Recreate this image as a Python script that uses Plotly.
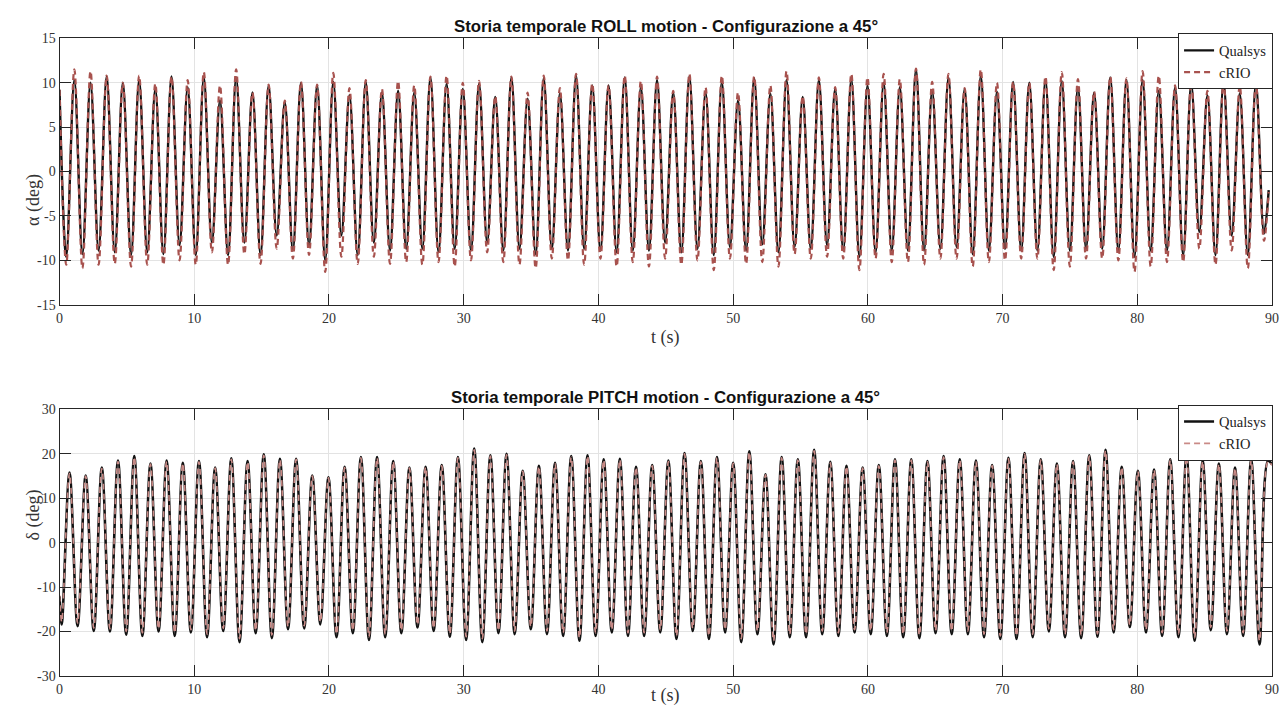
import plotly.graph_objects as go

# ---------------- ROLL (alpha) ----------------
roll_start = (0.0, 9.2, 9.2)          # t, Qualsys, cRIO
roll_end = (89.75, -2.1, -2.3)

roll_trough_t = [0.50, 1.70, 2.90, 4.10, 5.31, 6.51, 7.71, 8.91, 10.11, 11.31,
                 12.51, 13.72, 14.92, 16.12, 17.32, 18.52, 19.72, 20.92, 22.13, 23.33,
                 24.53, 25.73, 26.93, 28.13, 29.33, 30.54, 31.74, 32.94, 34.14, 35.34,
                 36.54, 37.74, 38.94, 40.15, 41.35, 42.55, 43.75, 44.95, 46.15, 47.35,
                 48.56, 49.76, 50.96, 52.16, 53.36, 54.56, 55.76, 56.97, 58.17, 59.37,
                 60.57, 61.77, 62.97, 64.17, 65.38, 66.58, 67.78, 68.98, 70.18, 71.38,
                 72.58, 73.79, 74.99, 76.19, 77.39, 78.59, 79.79, 80.99, 82.20, 83.40,
                 84.60, 85.80, 87.00, 88.20, 89.40]
roll_peak_t = [1.10, 2.30, 3.50, 4.70, 5.91, 7.11, 8.31, 9.51, 10.71, 11.91,
               13.11, 14.32, 15.52, 16.72, 17.92, 19.12, 20.32, 21.52, 22.73, 23.93,
               25.13, 26.33, 27.53, 28.73, 29.93, 31.14, 32.34, 33.54, 34.74, 35.94,
               37.14, 38.34, 39.54, 40.75, 41.95, 43.15, 44.35, 45.55, 46.75, 47.95,
               49.16, 50.36, 51.56, 52.76, 53.96, 55.16, 56.36, 57.57, 58.77, 59.97,
               61.17, 62.37, 63.57, 64.77, 65.98, 67.18, 68.38, 69.58, 70.78, 71.98,
               73.18, 74.39, 75.59, 76.79, 77.99, 79.19, 80.39, 81.59, 82.80, 84.00,
               85.20, 86.40, 87.60, 88.80]

roll_qualsys_troughs = [-9.6, -9.3, -8.9, -9.1, -9.4, -9.1, -9.3, -8.3, -9.4, -8.0,
                        -9.4, -8.0, -9.4, -7.2, -8.9, -8.3, -10.0, -7.2, -9.4, -8.0,
                        -8.9, -8.7, -8.7, -9.1, -8.7, -8.9, -8.0, -8.9, -8.7, -9.3,
                        -8.7, -8.9, -8.7, -8.9, -9.1, -8.9, -8.9, -8.0, -9.1, -8.7,
                        -9.4, -8.5, -8.9, -8.2, -9.1, -8.5, -8.7, -8.3, -8.9, -9.6,
                        -9.1, -8.9, -8.9, -8.9, -8.7, -8.5, -9.3, -8.9, -8.7, -8.9,
                        -8.9, -9.6, -8.9, -8.7, -8.7, -8.9, -9.6, -8.9, -8.9, -9.4,
                        -6.8, -9.4, -7.2, -9.4, -7.0]
roll_qualsys_peaks = [10.3, 10.0, 10.7, 10.0, 10.3, 9.3, 10.7, 9.5, 10.6, 8.0,
                      10.6, 8.9, 9.7, 7.8, 10.0, 9.7, 10.1, 8.6, 10.1, 8.9,
                      9.1, 8.9, 10.6, 9.9, 9.3, 9.9, 8.4, 10.6, 8.2, 10.5,
                      8.8, 10.8, 9.7, 9.7, 10.6, 9.5, 10.3, 8.9, 10.7, 8.9,
                      10.1, 8.0, 10.5, 8.8, 10.3, 8.4, 10.3, 9.3, 10.4, 9.7,
                      10.0, 9.5, 11.5, 9.1, 10.6, 9.3, 10.8, 9.0, 10.1, 10.0,
                      10.3, 10.2, 9.5, 8.9, 10.6, 10.3, 10.3, 9.1, 9.5, 9.9,
                      8.6, 10.1, 8.8, 9.9]

roll_crio_troughs = [-10.5, -10.9, -10.5, -10.4, -10.7, -10.5, -10.5, -10.0, -10.5, -9.1,
                     -10.5, -9.3, -10.4, -8.7, -9.8, -9.4, -11.3, -9.6, -10.4, -9.6,
                     -10.4, -10.2, -10.5, -10.2, -10.7, -10.0, -9.1, -10.2, -10.5, -10.9,
                     -9.8, -10.0, -10.5, -9.8, -10.7, -10.2, -10.7, -9.8, -10.5, -10.0,
                     -11.1, -9.8, -10.4, -10.2, -10.7, -9.3, -9.8, -9.6, -9.8, -11.1,
                     -9.8, -10.2, -10.2, -10.5, -9.8, -9.8, -10.7, -10.2, -10.0, -9.8,
                     -9.8, -11.1, -10.7, -9.8, -9.8, -10.0, -11.3, -10.7, -10.2, -10.2,
                     -8.7, -10.5, -8.9, -10.9, -7.8]
roll_crio_peaks = [11.5, 11.3, 10.8, 10.0, 10.8, 9.9, 10.7, 10.3, 11.2, 9.7,
                   11.5, 8.9, 9.8, 8.0, 10.1, 9.8, 11.1, 9.4, 10.3, 9.3,
                   10.2, 9.7, 10.7, 10.8, 10.0, 10.2, 8.5, 10.7, 8.9, 10.8,
                   9.4, 11.0, 9.9, 9.7, 10.8, 10.2, 10.7, 9.1, 11.0, 9.5,
                   10.8, 8.9, 10.7, 9.7, 11.3, 8.5, 10.6, 9.5, 11.0, 10.6,
                   11.0, 10.4, 11.6, 10.1, 11.0, 9.4, 11.5, 10.0, 10.1, 10.0,
                   10.7, 11.2, 10.4, 9.0, 10.7, 10.5, 11.3, 10.8, 9.7, 10.1,
                   9.1, 10.1, 9.7, 9.9]

# ---------------- PITCH (delta) ----------------
pitch_start = (0.0, -12.1, -11.8)
pitch_end = (90.0, 17.6, 17.4)

pitch_trough_t = [0.16, 1.34, 2.54, 3.74, 4.95, 6.15, 7.35, 8.55, 9.75, 10.95,
                  12.15, 13.36, 14.56, 15.76, 16.96, 18.16, 19.36, 20.56, 21.77, 22.97,
                  24.17, 25.37, 26.57, 27.77, 28.97, 30.18, 31.38, 32.58, 33.78, 34.98,
                  36.18, 37.38, 38.59, 39.79, 40.99, 42.19, 43.39, 44.59, 45.79, 47.00,
                  48.20, 49.40, 50.60, 51.80, 53.00, 54.20, 55.41, 56.61, 57.81, 59.01,
                  60.21, 61.41, 62.62, 63.82, 65.02, 66.22, 67.42, 68.62, 69.83, 71.03,
                  72.23, 73.43, 74.63, 75.83, 77.04, 78.24, 79.44, 80.64, 81.84, 83.05,
                  84.25, 85.45, 86.65, 87.85, 89.07]
pitch_peak_t = [0.74, 1.94, 3.14, 4.34, 5.55, 6.75, 7.95, 9.15, 10.35, 11.55,
                12.75, 13.96, 15.16, 16.36, 17.56, 18.76, 19.96, 21.16, 22.37, 23.57,
                24.77, 25.97, 27.17, 28.37, 29.57, 30.78, 31.98, 33.18, 34.38, 35.58,
                36.78, 37.98, 39.19, 40.39, 41.59, 42.79, 43.99, 45.19, 46.39, 47.60,
                48.80, 50.00, 51.20, 52.40, 53.60, 54.80, 56.01, 57.21, 58.41, 59.61,
                60.81, 62.01, 63.22, 64.42, 65.62, 66.82, 68.02, 69.22, 70.43, 71.63,
                72.83, 74.03, 75.23, 76.43, 77.64, 78.84, 80.04, 81.24, 82.44, 83.65,
                84.85, 86.05, 87.25, 88.45, 89.70]

pitch_qualsys_troughs = [-18.4, -18.8, -19.9, -20.0, -20.7, -21.0, -20.0, -21.0, -20.2, -21.3,
                         -19.9, -22.4, -20.4, -21.5, -19.5, -19.3, -18.4, -21.3, -20.4, -21.9,
                         -21.3, -20.4, -19.1, -19.9, -21.2, -21.9, -22.4, -20.4, -20.6, -19.5,
                         -20.6, -21.0, -22.1, -21.0, -20.2, -21.0, -21.0, -20.2, -21.7, -19.9,
                         -21.7, -20.2, -22.4, -20.6, -22.9, -21.3, -21.3, -20.6, -21.0, -20.2,
                         -20.6, -21.0, -21.3, -21.5, -20.4, -20.6, -20.6, -21.3, -21.7, -21.7,
                         -21.3, -20.0, -21.3, -21.5, -21.2, -20.2, -19.0, -20.2, -21.0, -21.3,
                         -22.1, -19.7, -20.6, -21.0, -22.9]
pitch_qualsys_peaks = [15.8, 15.1, 16.9, 18.5, 19.5, 17.8, 18.5, 18.0, 18.4, 16.9,
                       19.0, 18.4, 19.9, 18.9, 18.9, 15.1, 14.7, 17.1, 19.3, 19.3,
                       18.4, 16.9, 17.1, 17.5, 19.3, 21.2, 19.7, 20.0, 16.2, 17.3,
                       18.0, 19.5, 19.7, 18.8, 18.9, 17.1, 17.5, 18.5, 20.2, 18.4,
                       19.3, 18.0, 20.6, 15.4, 19.3, 18.8, 20.9, 18.2, 17.3, 16.9,
                       17.5, 18.8, 18.8, 18.4, 19.5, 18.8, 18.5, 17.5, 19.1, 20.2,
                       18.8, 17.8, 18.4, 19.7, 20.9, 17.1, 16.2, 16.5, 18.8, 19.7,
                       18.5, 17.8, 16.9, 18.8, 18.5]

pitch_crio_troughs = [-17.8, -18.1, -19.2, -19.4, -20.0, -20.3, -19.4, -20.3, -19.6, -20.6,
                      -19.3, -21.6, -19.8, -20.8, -18.9, -18.7, -17.8, -20.6, -19.8, -21.2,
                      -20.6, -19.8, -18.5, -19.3, -20.5, -21.2, -21.6, -19.8, -19.9, -18.9,
                      -19.9, -20.3, -21.4, -20.3, -19.6, -20.3, -20.3, -19.6, -21.0, -19.3,
                      -21.0, -19.6, -21.6, -19.9, -22.1, -20.6, -20.6, -19.9, -20.3, -19.6,
                      -19.9, -20.3, -20.6, -20.8, -19.8, -19.9, -19.9, -20.6, -21.0, -21.0,
                      -20.6, -19.4, -20.6, -20.8, -20.5, -19.6, -18.5, -19.6, -20.3, -20.6,
                      -21.4, -19.1, -19.9, -20.3, -22.1]
pitch_crio_peaks = [15.6, 15.0, 16.7, 18.3, 19.3, 17.7, 18.3, 17.9, 18.2, 16.8,
                    18.8, 18.2, 19.7, 18.7, 18.8, 15.0, 14.6, 16.9, 19.1, 19.1,
                    18.3, 16.8, 17.0, 17.3, 19.1, 20.9, 19.5, 19.8, 16.1, 17.2,
                    17.8, 19.3, 19.5, 18.6, 18.7, 17.0, 17.3, 18.3, 20.0, 18.2,
                    19.1, 17.9, 20.4, 15.3, 19.1, 18.6, 20.7, 18.0, 17.2, 16.8,
                    17.3, 18.6, 18.6, 18.2, 19.3, 18.6, 18.3, 17.4, 18.9, 20.0,
                    18.6, 17.7, 18.2, 19.5, 20.7, 17.0, 16.1, 16.4, 18.6, 19.5,
                    18.3, 17.7, 16.8, 18.6, 18.3]

roll_ticks = [-15, -10, -5, 0, 5, 10, 15]
pitch_ticks = [-30, -20, -10, 0, 10, 20, 30]
t_ticks = [0, 10, 20, 30, 40, 50, 60, 70, 80, 90]


def series(start, end, trough_t, peak_t, trough_v, peak_v):
    """Alternate trough/peak samples into one ordered time history."""
    t, v = [start[0]], [start[1]]
    for i in range(max(len(trough_t), len(peak_t))):
        if i < len(trough_t):
            t.append(trough_t[i]); v.append(trough_v[i])
        if i < len(peak_t):
            t.append(peak_t[i]); v.append(peak_v[i])
    t.append(end[0]); v.append(end[1])
    return t, v


rq_t, rq_v = series(roll_start[:2], roll_end[:2], roll_trough_t, roll_peak_t,
                    roll_qualsys_troughs, roll_qualsys_peaks)
rc_t, rc_v = series((roll_start[0], roll_start[2]), (roll_end[0], roll_end[2]),
                    roll_trough_t, roll_peak_t, roll_crio_troughs, roll_crio_peaks)
pq_t, pq_v = series(pitch_start[:2], pitch_end[:2], pitch_trough_t, pitch_peak_t,
                    pitch_qualsys_troughs, pitch_qualsys_peaks)
pc_t, pc_v = series((pitch_start[0], pitch_start[2]), (pitch_end[0], pitch_end[2]),
                    pitch_trough_t, pitch_peak_t, pitch_crio_troughs, pitch_crio_peaks)

BLACK = "#111111"
CRIO = "#a8524e"
SERIF = "Liberation Serif"
AX = "#262626"

fig = go.Figure()
fig.add_trace(go.Scatter(x=rq_t, y=rq_v, name="Qualsys", mode="lines",
                         line=dict(color=BLACK, width=2.4, shape="spline", smoothing=1.0),
                         xaxis="x", yaxis="y", legend="legend"))
fig.add_trace(go.Scatter(x=rc_t, y=rc_v, name="cRIO", mode="lines",
                         line=dict(color=CRIO, width=2.2, dash="6px,4px", shape="spline", smoothing=1.0),
                         xaxis="x", yaxis="y", legend="legend"))
fig.add_trace(go.Scatter(x=pq_t, y=pq_v, name="Qualsys", mode="lines",
                         line=dict(color=BLACK, width=2.6, shape="spline", smoothing=1.0),
                         xaxis="x2", yaxis="y2", legend="legend2"))
fig.add_trace(go.Scatter(x=pc_t, y=pc_v, name="cRIO", mode="lines",
                         line=dict(color="#c98a86", width=1.6, dash="6px,4px", shape="spline", smoothing=1.0),
                         xaxis="x2", yaxis="y2", legend="legend2"))

W, H = 1288, 725
x_dom = [56 / W, 1279 / W]
y1_dom = [1 - 304 / H, 1 - 32 / H]
y2_dom = [1 - 683 / H, 1 - 411 / H]

common_axis = dict(showline=True, linecolor=AX, linewidth=1, mirror="ticks",
                   ticks="inside", ticklen=11, tickwidth=1.2, tickcolor=AX,
                   showgrid=True, gridcolor="#e3e3e3", gridwidth=1, zeroline=False,
                   tickfont=dict(family=SERIF, size=14, color="#333333"))

legend_style = dict(x=1280 / W, xanchor="right", yanchor="top",
                    bgcolor="white", bordercolor=AX, borderwidth=1,
                    font=dict(family=SERIF, size=14.5, color="#222222"),
                    itemwidth=30, tracegroupgap=0)

fig.update_layout(
    width=W, height=H, margin=dict(l=0, r=0, t=0, b=0),
    paper_bgcolor="white", plot_bgcolor="white",
    xaxis=dict(domain=x_dom, anchor="y", range=[0, 90], tickvals=t_ticks,
               ticktext=[str(v) for v in t_ticks], **common_axis),
    yaxis=dict(domain=y1_dom, anchor="x", range=[-15, 15], tickvals=roll_ticks,
               ticktext=[str(v) for v in roll_ticks], **common_axis),
    xaxis2=dict(domain=x_dom, anchor="y2", range=[0, 90], tickvals=t_ticks,
                ticktext=[str(v) for v in t_ticks], **common_axis),
    yaxis2=dict(domain=y2_dom, anchor="x2", range=[-30, 30], tickvals=pitch_ticks,
                ticktext=[str(v) for v in pitch_ticks], **common_axis),
    legend=dict(y=y1_dom[1] + 5 / H, **legend_style),
    legend2=dict(y=y2_dom[1] + 5 / H, **legend_style),
    showlegend=True,
)

title_font = dict(family="Liberation Sans", size=16.8, color="#111111")
label_font = dict(family=SERIF, size=18, color="#333333")
xc = (x_dom[0] + x_dom[1]) / 2
fig.add_annotation(text="<b>Storia temporale ROLL motion - Configurazione a 45°</b>",
                   xref="paper", yref="paper", x=xc, y=y1_dom[1], yanchor="bottom",
                   yshift=0, showarrow=False, font=title_font)
fig.add_annotation(text="<b>Storia temporale PITCH motion - Configurazione a 45°</b>",
                   xref="paper", yref="paper", x=xc, y=y2_dom[1], yanchor="bottom",
                   yshift=0, showarrow=False, font=title_font)
fig.add_annotation(text="t (s)", xref="paper", yref="paper", x=xc, y=1 - 337 / H,
                   showarrow=False, font=label_font)
fig.add_annotation(text="t (s)", xref="paper", yref="paper", x=xc, y=1 - 716 / H,
                   showarrow=False, font=label_font)
fig.add_annotation(text="α (deg)", xref="paper", yref="paper", x=17 / W,
                   y=(y1_dom[0] + y1_dom[1]) / 2, textangle=-90, showarrow=False,
                   font=label_font)
fig.add_annotation(text="δ (deg)", xref="paper", yref="paper", x=17 / W,
                   y=(y2_dom[0] + y2_dom[1]) / 2, textangle=-90, showarrow=False,
                   font=label_font)

fig.write_html("out.html")
